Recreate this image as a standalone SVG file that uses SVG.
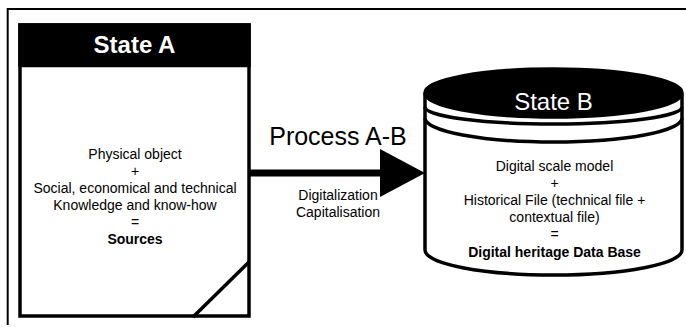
<svg xmlns="http://www.w3.org/2000/svg" width="686" height="327" viewBox="0 0 686 327">
<style>
text{font-family:"Liberation Sans",Arial,sans-serif;fill:#000}
.t{font-size:14px;text-anchor:middle}
.b{font-weight:bold}
.ln{fill:none;stroke:#000;stroke-width:3.5}
</style>
<rect width="686" height="327" fill="#fff"/>
<g id="frame"><path d="M7.7,325 V9 H686" fill="none" stroke="#000" stroke-width="2"/></g>
<g id="stateA">
<rect x="20" y="25" width="229" height="291" fill="#fff" stroke="#000" stroke-width="3.5"/>
<rect x="18.25" y="23.25" width="232.5" height="44" fill="#000"/>
<line x1="193" y1="317" x2="249" y2="262" stroke="#000" stroke-width="3.5"/>
<text x="134.5" y="53" font-size="24" font-weight="bold" text-anchor="middle" style="fill:#fff">State A</text>
<text class="t" x="135" y="159">Physical object</text>
<text class="t" x="135" y="176">+</text>
<text class="t" x="135" y="193">Social, economical and technical</text>
<text class="t" x="135" y="210">Knowledge and know-how</text>
<text class="t" x="135" y="227">=</text>
<text class="t b" x="135" y="244">Sources</text>
</g>
<g id="connectors">
<line x1="250" y1="173" x2="385" y2="173" stroke="#000" stroke-width="7"/>
<polygon points="380,149 425,173 380,197" fill="#000"/>
<text x="338" y="145" font-size="25" text-anchor="middle">Process A-B</text>
<text class="t" x="338" y="200">Digitalization</text>
<text class="t" x="338" y="217">Capitalisation</text>
</g>
<g id="stateB">
<path class="ln" d="M425,93 V250 A128.5,25 0 0 0 682,250 V93" fill="#fff"/>
<ellipse cx="553.5" cy="93" rx="128.5" ry="24" fill="#000" stroke="#000" stroke-width="3.5"/>
<path class="ln" d="M425,107 A128.5,17 0 0 0 682,107"/>
<path class="ln" d="M425,118 A128.5,24 0 0 0 682,118"/>
<text x="553.5" y="110" font-size="24" text-anchor="middle" style="fill:#fff">State B</text>
<text class="t" x="554.5" y="171">Digital scale model</text>
<text class="t" x="554.5" y="188">+</text>
<text class="t" x="554.5" y="205">Historical File (technical file +</text>
<text class="t" x="554.5" y="222">contextual file)</text>
<text class="t" x="554.5" y="239">=</text>
<text class="t b" x="554.5" y="257">Digital heritage Data Base</text>
</g>
</svg>
